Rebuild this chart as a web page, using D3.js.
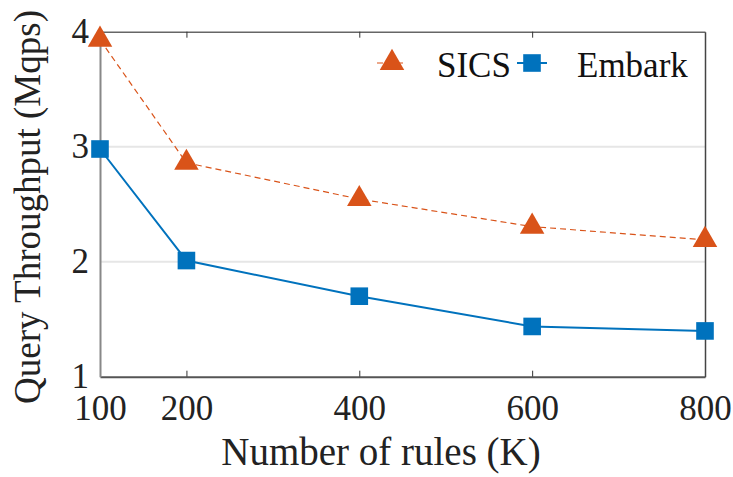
<!DOCTYPE html>
<html><head><meta charset="utf-8">
<script src="https://cdn.jsdelivr.net/npm/d3@7"></script>
<style>
@font-face { font-family: "ChartSerif"; src: local("Liberation Serif"), local("LiberationSerif"), local("LiberationSerif-Regular"), local("Times New Roman"), local("Tinos"); }
</style>
</head><body style="margin:0">
<svg id="c" width="733" height="477"></svg>
<script>
const rules = [100, 200, 400, 600, 800];
const sics = [3.93, 2.86, 2.545, 2.305, 2.19];
const embark = [2.98, 2.01, 1.70, 1.437, 1.398];
const xTicks = [100, 200, 400, 600, 800];
const yTicks = [1, 2, 3, 4];
const seriesNames = ["SICS", "Embark"];

const svg = d3.select("#c");
const L = 100, R = 705, T = 31.7, B = 376.7;
const x = d3.scaleLinear().domain([100, 800]).range([L, R]);
const y = d3.scaleLinear().domain([1, 4]).range([B, T]);
const orange = "#D95319", blue = "#0072BD";
const FAMILY = '"Liberation Serif", "ChartSerif", "Times New Roman", Tinos, serif';
function styleText(sel, size, color) {
  sel.attr("font-size", size).attr("fill", color || "#222")
     .style("font-family", FAMILY);
}

// grid
svg.append("g").selectAll("line").data([2, 3]).join("line")
  .attr("x1", L).attr("x2", R).attr("y1", d => y(d)).attr("y2", d => y(d))
  .attr("stroke", "#e6e6e6").attr("stroke-width", 2);

// axes
const xAxisB = d3.axisBottom(x).tickValues(xTicks).tickSizeInner(-6).tickSizeOuter(0).tickPadding(18);
const gB = svg.append("g").attr("transform", `translate(0,${B})`).call(xAxisB);
gB.select(".domain").attr("stroke", "#555").attr("stroke-width", 2);
gB.selectAll(".tick line").attr("stroke", "#333");
gB.selectAll(".tick text").attr("dy", "0.71em").call(styleText, 35);
gB.selectAll(".tick").filter(d => d === 100 || d === 800).select("line").remove();

const gT = svg.append("g").attr("transform", `translate(0,${T})`)
  .call(d3.axisTop(x).tickValues(xTicks).tickSizeInner(-6).tickSizeOuter(0).tickFormat(""));
gT.select(".domain").attr("stroke", "#666").attr("stroke-width", 1.5);
gT.selectAll(".tick line").attr("stroke", "#333");
gT.selectAll(".tick").filter(d => d === 100 || d === 800).select("line").remove();

const gL = svg.append("g").attr("transform", `translate(${L},0)`)
  .call(d3.axisLeft(y).tickValues(yTicks).tickSizeInner(0).tickSizeOuter(0).tickPadding(11).tickFormat(d3.format("d")));
gL.select(".domain").attr("stroke", "#888").attr("stroke-width", 2);
gL.selectAll(".tick text").call(styleText, 35);

const gR = svg.append("g").attr("transform", `translate(${R},0)`)
  .call(d3.axisRight(y).tickValues([]).tickSizeOuter(0));
gR.select(".domain").attr("stroke", "#444").attr("stroke-width", 1.5);

// lines
const line = d3.line().x((d, i) => x(rules[i])).y(d => y(d));
svg.append("path").datum(sics).attr("d", line).attr("fill", "none")
  .attr("stroke", orange).attr("stroke-width", 1.2).attr("stroke-dasharray", "6,4");
svg.append("path").datum(embark).attr("d", line).attr("fill", "none")
  .attr("stroke", blue).attr("stroke-width", 2);

const tri = d3.symbol().type(d3.symbolTriangle).size(260);
const sq = d3.symbol().type(d3.symbolSquare).size(310);
svg.append("g").selectAll("path").data(sics).join("path")
  .attr("d", tri).attr("transform", (d, i) => `translate(${x(rules[i])},${y(d)})`)
  .attr("fill", orange);
svg.append("g").selectAll("path").data(embark).join("path")
  .attr("d", sq).attr("transform", (d, i) => `translate(${x(rules[i])},${y(d)})`)
  .attr("fill", blue);

// legend
const lg = svg.append("g");
lg.append("line").attr("x1", 377).attr("x2", 407).attr("y1", 63).attr("y2", 63)
  .attr("stroke", orange).attr("stroke-width", 1.2).attr("stroke-dasharray", "6,4");
lg.append("path").attr("d", tri).attr("transform", "translate(392,63)").attr("fill", orange);
lg.append("text").attr("x", 437).attr("y", 76.5).text(seriesNames[0]).call(styleText, 35, "#111");
lg.append("line").attr("x1", 517).attr("x2", 547).attr("y1", 63).attr("y2", 63)
  .attr("stroke", blue).attr("stroke-width", 2);
lg.append("path").attr("d", sq).attr("transform", "translate(532,63)").attr("fill", blue);
lg.append("text").attr("x", 577).attr("y", 76.5).text(seriesNames[1]).call(styleText, 35, "#111");

// axis labels
svg.append("text").attr("x", 381).attr("y", 465).attr("text-anchor", "middle")
  .text("Number of rules (K)").call(styleText, 39);
svg.append("text").attr("transform", "translate(40,207) rotate(-90)").attr("text-anchor", "middle")
  .text("Query Throughput (Mqps)").call(styleText, 37);
</script>
</body></html>
